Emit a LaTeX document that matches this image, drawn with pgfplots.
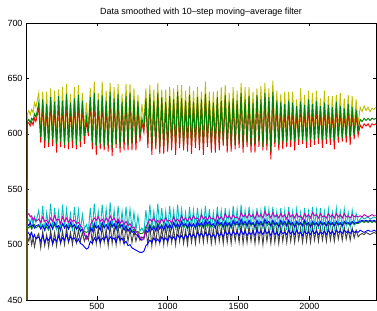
\documentclass[border=0pt]{standalone}
\usepackage{fontspec}
\setmainfont{Liberation Sans}
\usepackage{pgfplots}
\usepackage{pgfplotstable}
\pgfplotsset{compat=1.18}
\definecolor{mblue}{rgb}{0,0,1}
\definecolor{mgreen}{rgb}{0,0.5,0}
\definecolor{mred}{rgb}{1,0,0}
\definecolor{mteal}{rgb}{0,0.75,0.75}
\definecolor{mmag}{rgb}{0.75,0,0.75}
\definecolor{molive}{rgb}{0.75,0.75,0}
\definecolor{mgray}{rgb}{0.25,0.25,0.25}

\pgfplotstableread{
x olive green red
1 62 61 61
10 618 611 609
20 621 613 610
30 617 610 607
40 622 614 611
50 619 612 608
60 628 618 614
70 624 615 611
90 637 628 624
104 602 597 592
118 638 631 627
132 599 594 587
146 638 627 623
160 597 592 588
174 641 633 629
188 600 595 589
202 639 629 625
216 596 591 583
230 640 634 630
244 598 593 588
258 642 630 626
272 595 590 587
286 645 636 632
300 597 592 586
314 636 628 624
328 599 594 587
342 642 632 628
356 595 590 586
370 644 635 631
384 598 593 588
398 637 630 626
412 603 598 591
426 628 616 612
440 606 601 598
454 641 633 629
468 597 592 586
482 647 637 633
496 594 589 581
510 637 631 627
524 596 591 586
538 647 635 631
552 593 588 585
566 639 630 626
580 595 590 584
594 646 638 634
608 592 587 580
622 642 632 628
636 596 591 587
650 645 636 632
664 593 588 583
678 636 629 625
692 597 592 585
706 645 634 630
720 594 589 585
734 645 637 633
748 596 591 585
762 641 631 627
776 598 593 585
790 635 629 625
804 603 598 593
818 627 614 610
832 610 605 601
846 641 632 628
860 598 593 587
874 644 636 632
888 593 588 581
902 640 630 626
916 595 590 586
930 646 637 633
944 592 587 582
958 640 633 629
972 594 589 582
986 640 629 625
1000 593 588 584
1014 642 634 630
1028 596 591 585
1042 641 631 627
1056 594 589 581
1070 644 638 634
1084 597 592 587
1098 644 632 628
1112 593 588 585
1126 639 630 626
1140 595 590 584
1154 643 635 631
1168 594 589 582
1182 639 629 625
1196 596 591 587
1210 642 633 629
1224 595 590 585
1238 638 631 627
1252 593 588 581
1266 647 636 632
1280 597 592 588
1294 638 630 626
1308 594 589 583
1322 638 628 624
1336 596 591 583
1350 639 633 629
1364 595 590 585
1378 642 630 626
1392 597 592 589
1406 644 635 631
1420 594 589 583
1434 637 629 625
1448 596 591 584
1462 642 632 628
1476 595 590 586
1490 639 630 626
1504 597 592 587
1518 646 637 633
1532 595 590 583
1546 642 631 627
1560 597 592 588
1574 642 634 630
1588 594 589 583
1602 638 628 624
1616 596 591 583
1630 641 635 631
1644 598 593 588
1658 643 631 627
1672 593 588 585
1686 646 637 633
1700 596 591 585
1714 641 633 629
1728 589 584 577
1742 648 638 634
1756 597 592 588
1770 639 630 626
1784 595 590 585
1798 636 629 625
1812 598 593 586
1826 638 627 623
1840 597 592 588
1854 638 630 626
1868 599 594 588
1882 638 628 624
1896 598 593 585
1910 631 625 621
1924 600 595 590
1938 641 629 625
1952 599 594 591
1966 635 626 622
1980 598 593 587
1994 639 631 627
2008 600 595 588
2022 637 627 623
2036 599 594 590
2050 639 630 626
2064 601 596 591
2078 632 625 621
2092 599 594 587
2106 639 628 624
2120 600 595 591
2134 634 626 622
2148 601 596 590
2162 634 624 620
2176 599 594 586
2190 635 629 625
2204 602 597 592
2218 637 625 621
2232 601 596 593
2246 632 623 619
2260 603 598 592
2274 635 627 623
2288 602 597 590
2302 634 624 620
2316 604 599 595
2330 631 622 618
2344 608 603 598
2358 624 613 608
2372 620 611 605
2386 625 614 609
2400 621 612 607
2414 624 614 609
2428 620 612 606
2442 623 614 609
2456 622 613 608
2470 624 614 609
}\toptab

\pgfplotstableread{
x teal gray mag bluet blueb dgreen
1 52 51 52 52 51 52
10 521 507 527 519 512 516
20 523 503 528 517 510 515
30 519 509 525 520 508 517
40 524 500 526 516 511 514
50 518 506 522 518 506 516
60 525 498 524 515 509 518
70 520 505 521 517 505 515
90 531 510 523 518 507 517
104 514 497 520 514 503 515
118 535 512 525 517 508 518
132 512 499 521 513 502 514
146 529 509 522 519 506 516
160 516 498 519 515 504 513
174 537 513 524 518 507 519
188 513 500 521 514 501 515
202 533 511 526 520 505 518
216 515 499 522 516 503 514
230 530 514 523 517 508 517
244 511 501 519 513 502 515
258 536 512 525 519 506 519
272 514 500 521 515 504 516
286 532 515 524 518 509 518
300 516 502 520 514 503 514
314 528 511 523 520 507 517
328 512 500 521 516 505 515
342 534 514 522 518 506 518
356 515 502 519 514 502 514
370 531 513 520 517 505 516
384 513 503 517 512 501 513
398 527 511 515 514 500 514
412 514 503 510 509 498 512
426 518 508 505 506 496 511
440 512 504 508 508 497 512
454 533 516 518 515 503 516
468 513 502 521 512 501 514
482 537 518 524 519 506 518
496 515 501 522 515 503 515
510 530 515 525 517 507 517
524 514 500 521 513 502 514
538 536 517 523 520 506 519
552 516 502 520 515 504 516
566 532 514 524 518 508 518
580 513 499 521 514 503 515
594 538 518 526 521 507 519
608 515 501 522 516 505 516
622 531 516 524 519 506 518
636 512 500 520 514 502 514
650 535 517 523 522 508 517
664 514 502 519 516 504 515
678 530 515 522 518 506 518
692 513 501 518 513 501 514
706 534 516 521 517 503 516
720 515 503 517 512 499 513
734 532 514 519 515 500 515
748 514 502 515 511 497 512
762 529 512 516 512 496 514
776 513 503 512 509 495 511
790 526 510 510 508 494 512
804 512 504 507 505 493 510
818 515 507 504 504 493 510
832 511 505 506 506 494 511
846 531 514 516 513 499 516
860 514 500 519 511 501 514
874 536 517 523 517 504 518
888 515 499 521 513 502 515
902 530 514 524 516 506 517
916 513 501 520 512 503 514
930 537 518 522 518 505 519
944 516 502 519 514 502 515
958 533 515 523 517 507 518
972 514 500 520 513 504 514
986 530 516 524 519 506 517
1000 512 501 521 515 503 515
1014 535 517 522 518 508 518
1028 515 502 519 514 505 516
1042 531 514 525 520 507 519
1056 513 500 521 516 504 515
1070 536 518 523 519 509 518
1084 516 503 520 515 506 516
1098 532 515 526 521 508 519
1112 514 501 522 517 505 515
1126 529 513 524 519 509 518
1140 512 500 521 515 506 514
1154 534 516 525 520 510 519
1168 515 502 522 516 507 516
1182 531 514 526 519 509 518
1196 513 501 523 515 506 515
1210 533 517 524 521 511 519
1224 516 503 521 517 508 516
1238 530 515 527 520 510 518
1252 514 502 523 516 507 515
1266 535 518 525 522 511 520
1280 515 503 522 518 508 516
1294 532 516 526 521 510 519
1308 513 501 523 517 507 515
1322 529 514 524 519 509 518
1336 514 502 521 515 506 516
1350 534 517 527 522 511 520
1364 516 503 523 518 508 516
1378 531 515 525 520 510 519
1392 513 501 522 516 507 515
1406 533 518 528 521 512 520
1420 515 502 524 517 509 516
1434 530 516 526 520 511 519
1448 514 501 523 516 508 515
1462 535 517 527 522 512 520
1476 516 503 524 518 509 517
1490 532 515 525 521 511 519
1504 513 502 522 517 508 516
1518 536 518 529 523 513 520
1532 515 501 525 518 509 517
1546 531 516 527 521 512 519
1560 514 502 524 517 508 516
1574 534 517 528 522 511 520
1588 516 503 525 518 509 517
1602 530 515 527 520 512 519
1616 513 501 523 516 508 515
1630 533 518 529 522 513 520
1644 515 502 525 518 510 517
1658 531 516 527 521 512 519
1672 514 500 524 517 509 516
1686 535 517 530 523 513 521
1700 516 503 526 519 510 517
1714 532 515 528 521 512 519
1728 513 501 524 517 508 516
1742 534 518 529 522 513 520
1756 515 502 525 518 509 517
1770 530 516 527 520 511 519
1784 514 501 524 516 508 516
1798 533 517 528 522 512 520
1812 516 503 525 518 510 517
1826 531 515 527 521 511 519
1840 513 502 523 517 509 516
1854 534 517 529 522 513 520
1868 515 503 525 518 510 517
1882 530 516 527 520 512 519
1896 514 502 524 516 509 516
1910 532 517 528 521 513 520
1924 516 504 525 518 510 517
1938 529 515 526 520 511 519
1952 513 502 523 517 508 516
1966 533 517 528 522 512 520
1980 515 503 525 518 510 517
1994 530 516 527 520 511 519
2008 514 502 524 516 509 516
2022 534 517 529 521 513 520
2036 516 504 526 518 510 517
2050 531 515 527 520 512 519
2064 514 503 524 517 509 516
2078 533 516 528 521 511 520
2092 515 504 525 518 510 517
2106 530 515 526 520 512 519
2120 514 503 524 517 509 516
2134 532 517 528 521 513 520
2148 516 504 525 518 510 517
2162 529 515 527 520 512 519
2176 515 503 524 517 509 516
2190 533 516 528 521 513 520
2204 517 505 525 518 511 517
2218 530 515 527 520 512 519
2232 515 504 524 517 510 516
2246 532 516 528 521 513 520
2260 517 505 525 519 511 518
2274 529 514 526 520 512 519
2288 516 504 524 518 510 517
2302 531 515 527 521 513 520
2316 518 506 525 519 511 518
2330 528 513 526 520 512 519
2344 520 507 525 520 511 519
2358 523 509 526 521 513 520
2372 525 510 525 522 512 521
2386 523 509 527 521 511 520
2400 524 511 526 522 512 521
2414 525 510 525 521 513 520
2428 523 509 526 522 512 521
2442 524 510 527 521 512 520
2456 525 511 526 522 513 521
2470 524 510 526 521 512 520
}\bottab

\begin{document}
\begin{tikzpicture}
\begin{axis}[
  scale only axis, width=350bp, height=277bp,
  xmin=0, xmax=2470, ymin=450, ymax=700,
  xtick={500,1000,1500,2000}, ytick={450,500,...,700},
  tick align=inside, major tick length=3.5bp,
  axis line style={line width=0.6bp},
  every tick/.style={black, line width=0.5bp},
  tick label style={font=\fontsize{9}{10}\selectfont},
  xticklabel style={yshift=0.5bp},
  /pgf/number format/assume math mode=true,
  /pgf/number format/1000 sep={},
  title={Data smoothed with 10–step moving–average filter},
  title style={font=\fontsize{9}{10}\selectfont, at={(0.5,1)}, anchor=base, yshift=3bp},
  every axis plot/.append style={line width=0.9bp, mark=none},
]
\addplot[mgray] table[x=x,y=gray]{\bottab};
\addplot[mgreen] table[x=x,y=dgreen]{\bottab};
\addplot[mteal] table[x=x,y=teal]{\bottab};
\addplot[mblue] table[x=x,y=blueb]{\bottab};
\addplot[mblue] table[x=x,y=bluet]{\bottab};
\addplot[mmag] table[x=x,y=mag]{\bottab};
\addplot[molive] table[x=x,y=olive]{\toptab};
\addplot[mred] table[x=x,y=red]{\toptab};
\addplot[mgreen] table[x=x,y=green]{\toptab};
\end{axis}
\pgfresetboundingbox
\useasboundingbox ([xshift=-26bp,yshift=-11bp]current axis.south west) rectangle ([xshift=1bp,yshift=23bp]current axis.north east);
\end{tikzpicture}
\end{document}
